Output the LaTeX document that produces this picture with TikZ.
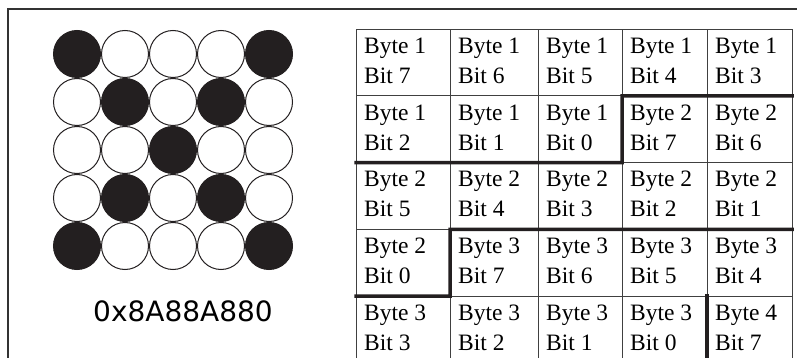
\documentclass[tikz,border=0pt]{standalone}
\usepackage{fontspec}
\setmainfont{Liberation Serif}
\newfontfamily\hexfont{DejaVu Sans}
\definecolor{ink}{HTML}{231F20}

\begin{document}
\begin{tikzpicture}[x=1pt,y=-1pt,
		dot/.style={circle, draw=ink, line width=1pt, minimum size=47pt, inner sep=0pt},
		cell/.style={draw=black!75, line width=0.9pt, minimum height=66.8pt, inner sep=0pt, outer sep=0pt, anchor=north west},
		celltext/.style={anchor=north west, align=left, inner sep=0pt, font=\fontsize{23.5}{30}\selectfont},
		bytesep/.style={draw=ink, line width=3.5pt, line cap=rect},
		frame/.style={draw=black!80, line width=2.5pt}]
			\useasboundingbox (0,0) rectangle (797,358);
			\clip (0,0) rectangle (797,358);
			% Frame
			\draw[frame] (8,9) rectangle (830,390);
			% Dot matrix
			\foreach \r/\bits in {0/{1,0,0,0,1},1/{0,1,0,1,0},2/{0,0,1,0,0},3/{0,1,0,1,0},4/{1,0,0,0,1}} {
					\foreach \b [count=\c from 0] in \bits {
							\ifnum\b=1
								\node[dot, fill=ink] (dot-\r-\c) at (77+48*\c,54+48*\r) {};
							\else
								\node[dot, fill=white] (dot-\r-\c) at (77+48*\c,54+48*\r) {};
							\fi
						}
				}
			\node[font=\hexfont\fontsize{28}{30}\selectfont, inner sep=0pt] (hex) at (183,311) {0x8A88A880};
			% Bit table
			\foreach \r in {0,...,4} {
					\foreach \c/\x/\w in {0/356/94,1/450/88,2/538/84,3/622/85,4/707/85} {
							\pgfmathtruncatemacro\k{5*\r+\c}
							\pgfmathtruncatemacro\byte{div(\k,8)+1}
							\pgfmathtruncatemacro\bit{7-mod(\k,8)}
							\node[cell, minimum width=\w pt] (cell-\r-\c) at (\x,29+66.8*\r) {};
							\node[celltext] (txt-\r-\c) at ([shift={(8,8.5)}]cell-\r-\c.north west) {Byte \byte\\Bit \bit};
						}
				}
			% Byte boundaries
			\draw[bytesep] (cell-0-4.south east) -- (cell-1-3.north west) -- (cell-1-3.south west) -- (cell-1-0.south west);
			\draw[bytesep] (cell-2-4.south east) -- (cell-3-1.north west) -- (cell-3-1.south west) -- (cell-3-0.south west);
			\draw[bytesep] (cell-4-4.north west) -- (cell-4-4.south west);
		\end{tikzpicture}
\end{document}
